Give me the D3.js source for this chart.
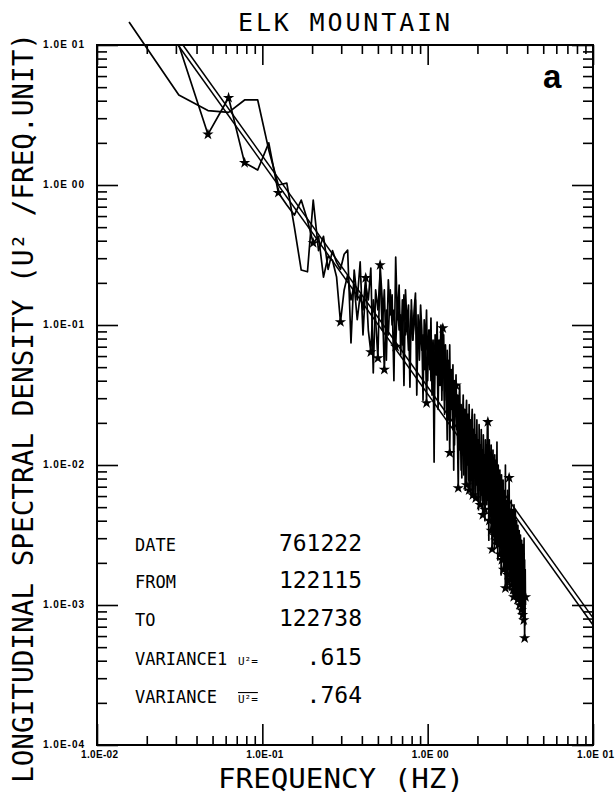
<!DOCTYPE html>
<html>
<head>
<meta charset="utf-8">
<script src="https://cdn.jsdelivr.net/npm/d3@7"></script>
<style>
  body { margin: 0; background: #fff; }
  svg text { fill: #000; }
</style>
</head>
<body>
<svg id="chart" width="615" height="802"></svg>
<script>
// Spectral estimates are spaced one frequency bin apart (Hz per bin).
const binWidth = 0.015625;

// Spectrum plotted with star symbols, first value sits in bin 2.
const starredFirstBin = 2;
const starredPsd = [
  10, 2.3, 4.2, 1.44, 1.28, 2.0, 0.88, 0.72, 0.61,
  0.78, 0.56, 0.385, 0.43, 0.22, 0.31, 0.29, 0.22, 0.105, 0.178,
  0.228, 0.151, 0.193, 0.109, 0.164, 0.128, 0.217, 0.092, 0.064, 0.151,
  0.109, 0.058, 0.268, 0.151, 0.048, 0.128, 0.085, 0.178, 0.100, 0.128,
  0.070, 0.151, 0.092, 0.118, 0.072, 0.164, 0.085, 0.109, 0.066, 0.092,
  0.128, 0.078, 0.100, 0.151, 0.072, 0.092, 0.056, 0.109, 0.066, 0.085,
  0.048, 0.078, 0.0277, 0.072, 0.056, 0.092, 0.040, 0.066, 0.070, 0.0316,
  0.078, 0.044, 0.061, 0.025, 0.066, 0.037, 0.092, 0.029, 0.095, 0.048,
  0.023, 0.056, 0.034, 0.066, 0.021, 0.044, 0.0122, 0.034, 0.025, 0.040,
  0.0179, 0.0316, 0.0139, 0.029, 0.037, 0.021, 0.0151, 0.00685, 0.023, 0.0128,
  0.0194, 0.0092, 0.025, 0.0118, 0.0179, 0.0085, 0.021, 0.0109, 0.0151, 0.0072,
  0.0194, 0.0100, 0.0139, 0.0066, 0.0164, 0.0092, 0.0128, 0.0078, 0.0151, 0.0061,
  0.0118, 0.0085, 0.0139, 0.0072, 0.0058, 0.0109, 0.0078, 0.0128, 0.0056, 0.0100,
  0.0066, 0.0118, 0.0052, 0.0092, 0.0061, 0.0109, 0.0072, 0.0044, 0.0085, 0.0056,
  0.0100, 0.0048, 0.0078, 0.0061, 0.0092, 0.0052, 0.0078, 0.0203, 0.0056, 0.0085,
  0.0040, 0.0072, 0.0052, 0.0092, 0.0034, 0.0066, 0.0025, 0.0078, 0.0044, 0.0061,
  0.00316, 0.0085, 0.0040, 0.0056, 0.0072, 0.0029, 0.0052, 0.0146, 0.0037, 0.0061,
  0.0027, 0.0048, 0.0034, 0.0066, 0.0023, 0.0044, 0.0056, 0.0029, 0.0040, 0.0021,
  0.0052, 0.00316, 0.0044, 0.00179, 0.0056, 0.0027, 0.0037, 0.0021, 0.00132, 0.0034,
  0.0048, 0.00194, 0.0029, 0.0040, 0.00164, 0.00316, 0.0025, 0.0044, 0.0081, 0.0021,
  0.0029, 0.00151, 0.0037, 0.0023, 0.0027, 0.00139, 0.0034, 0.0021, 0.0025, 0.00128,
  0.0029, 0.00114, 0.0023, 0.00179, 0.0027, 0.00128, 0.0021, 0.00151, 0.0025, 0.00118,
  0.00194, 0.00164, 0.0029, 0.00109, 0.0021, 0.00139, 0.00179, 0.00118, 0.0023, 0.0010,
  0.00164, 0.00128, 0.00194, 0.00109, 0.00151, 0.00092, 0.00179, 0.00118, 0.00139, 0.00085,
  0.00164, 0.00109, 0.00128, 0.00078, 0.00139, 0.0010, 0.00058, 0.00118, 0.00109, 0.00114
];

// Bins of the starred spectrum that carry a star symbol.
const starBins = [3, 4, 5, 8, 13, 19, 27, 29, 32, 33, 35, 41, 63, 69, 79, 87, 95, 98,
  110, 114, 120, 125, 133, 138, 142, 148, 151, 155, 157, 161, 166, 171, 175, 180, 184,
  189, 195, 199, 202, 206, 210, 212, 216, 220, 224, 230, 236, 240, 244, 247, 250];

// Second spectrum, plain line, first value sits in bin 1.
const plainFirstBin = 1;
const plainPsd = [
  14.6, 4.4, 3.4, 3.3, 4.05, 4.05, 1.78, 1.0, 1.03, 0.50,
  0.247, 0.24, 0.78, 0.34, 0.43, 0.25, 0.34, 0.28, 0.25, 0.32,
  0.343, 0.0744, 0.247, 0.151, 0.282, 0.085, 0.193, 0.151, 0.255, 0.0454,
  0.178, 0.128, 0.228, 0.092, 0.178, 0.056, 0.21, 0.118, 0.164, 0.040,
  0.306, 0.109, 0.193, 0.061, 0.151, 0.037, 0.178, 0.100, 0.139, 0.036,
  0.151, 0.078, 0.128, 0.169, 0.0316, 0.118, 0.072, 0.139, 0.092, 0.029,
  0.109, 0.066, 0.128, 0.040, 0.092, 0.048, 0.112, 0.0316, 0.078, 0.0105,
  0.085, 0.056, 0.105, 0.040, 0.078, 0.052, 0.100, 0.034, 0.061, 0.085,
  0.029, 0.072, 0.044, 0.0151, 0.056, 0.0316, 0.072, 0.021, 0.048, 0.029,
  0.052, 0.0092, 0.040, 0.025, 0.044, 0.0179, 0.0316, 0.0109, 0.029, 0.037,
  0.0151, 0.027, 0.0081, 0.021, 0.0316, 0.0128, 0.025, 0.0066, 0.021, 0.029,
  0.0109, 0.023, 0.0078, 0.027, 0.0128, 0.021, 0.0061, 0.0194, 0.025, 0.0100,
  0.0179, 0.0058, 0.023, 0.0109, 0.0164, 0.0072, 0.021, 0.0092, 0.0151, 0.0048,
  0.0194, 0.0085, 0.0139, 0.0056, 0.0179, 0.0078, 0.0128, 0.0052, 0.0164, 0.0066,
  0.0118, 0.0040, 0.0151, 0.0092, 0.0139, 0.0056, 0.0194, 0.0078, 0.0109, 0.0029,
  0.0151, 0.0066, 0.0100, 0.0048, 0.0139, 0.0061, 0.0092, 0.0034, 0.0128, 0.0052,
  0.0085, 0.0025, 0.0118, 0.0056, 0.0078, 0.0027, 0.0109, 0.0048, 0.0072, 0.0021,
  0.0100, 0.0040, 0.0061, 0.0029, 0.0092, 0.0037, 0.0056, 0.00164, 0.0085, 0.0034,
  0.0052, 0.0023, 0.0078, 0.0040, 0.0048, 0.00179, 0.0066, 0.00316, 0.0100, 0.00139,
  0.0056, 0.0027, 0.0044, 0.00132, 0.0066, 0.0025, 0.0040, 0.00179, 0.0061, 0.00128,
  0.0048, 0.0021, 0.0034, 0.00151, 0.0056, 0.00194, 0.00316, 0.00124, 0.0048, 0.00164,
  0.0029, 0.00118, 0.0052, 0.0021, 0.0034, 0.00139, 0.0048, 0.00179, 0.0027, 0.00114,
  0.0040, 0.00151, 0.0025, 0.00128, 0.0037, 0.00164, 0.0023, 0.00109, 0.0034, 0.00139,
  0.0027, 0.00109, 0.00316, 0.00128, 0.0023, 0.0010, 0.0029, 0.00139, 0.0021, 0.00092,
  0.0027, 0.00118, 0.00194, 0.00089, 0.0030, 0.00109, 0.0021, 0.00072, 0.00179, 0.0010
];

// Two straight reference slopes (end points: frequency, density).
const slopeAFreq = [0.0309, 10];
const slopeAPsd = [10, 0.00072];
const slopeBFreq = [0.0331, 10];
const slopeBPsd = [10, 0.00081];

// Axis decades and their labels.
const xDecades = [0.01, 0.1, 1, 10];
const xDecadeLabels = ["1.0E-02", "1.0E-01", "1.0E 00", "1.0E 01"];
const yDecades = [1e-4, 1e-3, 1e-2, 1e-1, 1, 10];
const yDecadeLabels = ["1.0E-04", "1.0E-03", "1.0E-02", "1.0E-01", "1.0E 00", "1.0E 01"];

// Run information block.
const infoLabels = ["DATE", "FROM", "TO", "VARIANCE1", "VARIANCE"];
const infoSymbols = ["", "", "", "U²=", "U²="];
const infoValues = ["761222", "122115", "122738", ".615", ".764"];

const plotFont = "'DejaVu Sans Mono', monospace";
const svg = d3.select("#chart");

const x = d3.scaleLog().domain([0.01, 10]).range([97, 593]);
const y = d3.scaleLog().domain([1e-4, 10]).range([745, 45]);

const isDecade = v => Math.abs(Math.log10(v) - Math.round(Math.log10(v))) < 1e-9;
const xMinor = x.ticks().filter(v => !isDecade(v));
const yMinor = y.ticks().filter(v => !isDecade(v));

function tickAxis(axis, values, size) {
  return g => {
    g.call(axis.tickValues(values).tickSize(-size).tickSizeOuter(0).tickFormat(""));
    g.select(".domain").remove();
    g.selectAll(".tick line").attr("stroke", "#000").attr("stroke-width", 1.6);
  };
}

// Ticks on all four sides, pointing into the plot.
const axes = svg.append("g");
axes.append("g").attr("transform", "translate(0,745)").call(tickAxis(d3.axisBottom(x), xDecades, 21));
axes.append("g").attr("transform", "translate(0,745)").call(tickAxis(d3.axisBottom(x), xMinor, 9));
axes.append("g").attr("transform", "translate(0,45)").call(tickAxis(d3.axisTop(x), xDecades, 20));
axes.append("g").attr("transform", "translate(0,45)").call(tickAxis(d3.axisTop(x), xMinor, 9));
axes.append("g").attr("transform", "translate(97,0)").call(tickAxis(d3.axisLeft(y), yDecades, 21));
axes.append("g").attr("transform", "translate(97,0)").call(tickAxis(d3.axisLeft(y), yMinor, 10));
axes.append("g").attr("transform", "translate(593,0)").call(tickAxis(d3.axisRight(y), yDecades, 21));
axes.append("g").attr("transform", "translate(593,0)").call(tickAxis(d3.axisRight(y), yMinor, 10));

// Frame
svg.append("rect")
  .attr("x", x(0.01)).attr("y", y(10))
  .attr("width", x(10) - x(0.01)).attr("height", y(1e-4) - y(10))
  .attr("fill", "none").attr("stroke", "#000").attr("stroke-width", 2);

// Tick labels
svg.append("g").selectAll("text").data(yDecades).join("text")
  .attr("x", 84).attr("y", d => y(d) + 3)
  .attr("text-anchor", "end")
  .attr("font-family", "'Liberation Sans', Arial, sans-serif")
  .attr("font-weight", "bold").attr("font-size", 10)
  .attr("textLength", 41).attr("lengthAdjust", "spacing")
  .text((d, i) => yDecadeLabels[i]);

svg.append("g").selectAll("text").data(xDecades).join("text")
  .attr("x", d => Math.min(x(d) - 16, 614 - 37)).attr("y", 758)
  .attr("font-family", "'Liberation Sans', Arial, sans-serif")
  .attr("font-weight", "bold").attr("font-size", 10)
  .attr("textLength", 37).attr("lengthAdjust", "spacing")
  .text((d, i) => xDecadeLabels[i]);

// Spectra
const line = d3.line().x(d => x(d.f)).y(d => y(d.s));
const starred = starredPsd.map((s, i) => ({ bin: i + starredFirstBin, f: (i + starredFirstBin) * binWidth, s }));
const plain = plainPsd.map((s, i) => ({ bin: i + plainFirstBin, f: (i + plainFirstBin) * binWidth, s }));

const marks = svg.append("g").attr("fill", "none").attr("stroke", "#000").attr("stroke-linejoin", "round");
marks.append("path").datum(plain).attr("d", line).attr("stroke-width", 1.7);
marks.append("path").datum(starred).attr("d", line).attr("stroke-width", 1.7);

const slopes = [
  slopeAFreq.map((f, i) => ({ f, s: slopeAPsd[i] })),
  slopeBFreq.map((f, i) => ({ f, s: slopeBPsd[i] }))
];
marks.selectAll(".slope").data(slopes).join("path")
  .attr("class", "slope").attr("d", line).attr("stroke-width", 1.5);

const star = d3.symbol(d3.symbolStar, 40);
svg.append("g").selectAll("path")
  .data(starred.filter(d => starBins.includes(d.bin)))
  .join("path")
  .attr("transform", d => `translate(${x(d.f)},${y(d.s)})`)
  .attr("d", star)
  .attr("fill", "#000");

// Title and axis titles
svg.append("text")
  .attr("x", 238).attr("y", 31)
  .attr("font-family", plotFont).attr("font-size", 25)
  .attr("textLength", 212).attr("lengthAdjust", "spacing")
  .text("ELK MOUNTAIN");

svg.append("text")
  .attr("x", 218).attr("y", 788)
  .attr("font-family", plotFont).attr("font-size", 27)
  .attr("textLength", 246).attr("lengthAdjust", "spacingAndGlyphs")
  .text("FREQUENCY (HZ)");

svg.append("text")
  .attr("transform", "translate(33,408) rotate(-90)")
  .attr("text-anchor", "middle")
  .attr("font-family", plotFont).attr("font-size", 28)
  .attr("textLength", 750).attr("lengthAdjust", "spacingAndGlyphs")
  .text("LONGITUDINAL SPECTRAL DENSITY (U² /FREQ.UNIT)");

// Panel letter
svg.append("text")
  .attr("x", 543).attr("y", 88)
  .attr("font-family", "'Liberation Sans', Arial, sans-serif")
  .attr("font-weight", "bold").attr("font-size", 33)
  .text("a");

// Run information
const rowY = [551, 588, 626, 665, 703];
const info = svg.append("g");
info.selectAll(".lab").data(infoLabels).join("text")
  .attr("class", "lab")
  .attr("x", 135).attr("y", (d, i) => rowY[i])
  .attr("font-family", plotFont).attr("font-size", 17)
  .text(d => d);
info.selectAll(".val").data(infoValues).join("text")
  .attr("class", "val")
  .attr("x", 362).attr("y", (d, i) => rowY[i])
  .attr("text-anchor", "end")
  .attr("font-family", plotFont).attr("font-size", 23)
  .text(d => d);
info.selectAll(".sym").data(infoSymbols).join("text")
  .attr("class", "sym")
  .attr("x", 238).attr("y", (d, i) => rowY[i])
  .attr("font-family", plotFont).attr("font-size", 11)
  .attr("text-decoration", (d, i) => i === 4 ? "overline" : null)
  .text(d => d);
</script>
</body>
</html>
